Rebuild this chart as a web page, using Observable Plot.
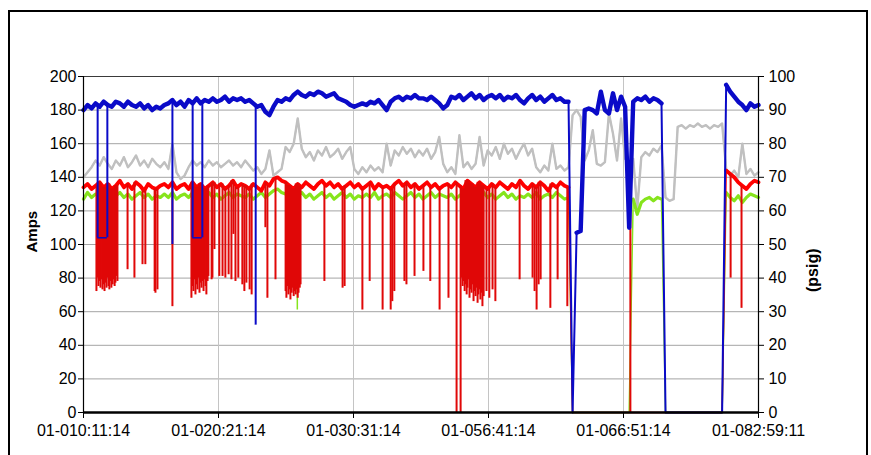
<!DOCTYPE html>
<html><head><meta charset="utf-8">
<script src="https://cdn.jsdelivr.net/npm/d3@7"></script>
<script src="https://cdn.jsdelivr.net/npm/@observablehq/plot@0.6"></script>
<style>
html,body{margin:0;padding:0;background:#fff;overflow:hidden;}
#wrap{position:relative;width:871px;height:455px;}
#border{position:absolute;left:8px;top:10px;width:860px;height:470px;border:2px solid #000;box-sizing:border-box;pointer-events:none;}
</style></head><body>
<div id="wrap"><div id="chart"></div><div id="border"></div></div>
<script>
// category (time-stamp) tick labels
const xTickLabels = ["01-010:11:14","01-020:21:14","01-030:31:14","01-056:41:14","01-066:51:14","01-082:59:11"];
const sampleStep = 10; // samples between stored points

// series values (Amps scale; right axis psig = Amps/2)
const blue = [180,183,181,184,182,185,183,182,185,184,
182,185,183,182,184,181,183,180,182,181,
183,184,186,183,185,182,186,184,187,184,
186,185,187,185,186,188,185,187,186,187,
185,186,184,182,183,179,177,182,186,185,
187,186,189,191,189,188,190,189,191,190,
188,189,190,187,186,185,183,182,183,184,
183,185,184,186,183,180,185,187,188,186,
188,187,189,187,187,186,188,186,184,181,
183,188,187,189,186,188,190,187,189,186,
188,189,187,189,186,188,187,189,186,184,
187,189,186,188,185,187,189,186,187,185,
185,0,107,108,180,181,180,178,191,180,
178,190,180,188,182,110,185,187,186,188,
185,187,186,184,0,0,0,0,0,0,
0,0,0,0,0,0,0,0,0,195,
191,188,185,183,180,184,182,183];

const gray = [140,143,146,150,147,152,148,145,150,147,
152,146,149,153,147,150,146,151,148,146,
149,145,160,143,139,141,146,150,147,149,
146,150,147,149,146,148,150,147,149,146,
150,147,144,146,142,145,156,141,143,145,
158,155,160,175,157,152,155,150,156,153,
158,152,154,157,151,155,158,145,142,146,
143,147,144,146,143,160,147,156,153,158,
154,157,152,156,153,157,151,155,164,148,
143,146,142,165,146,149,145,148,164,147,
156,153,158,151,160,154,157,151,156,160,
153,157,146,143,147,144,160,145,147,144,
146,177,180,176,150,156,168,148,147,149,
178,166,150,175,151,149,151,121,152,155,
153,157,155,159,128,126,127,170,171,169,
171,170,172,170,171,169,171,170,172,145,
141,144,140,160,142,145,141,143];

const red = [134,136,133,135,137,134,136,133,135,138,
134,136,133,137,135,132,136,134,133,135,
136,134,137,133,135,136,133,137,134,136,
133,135,137,134,136,133,135,138,134,136,
135,133,136,134,132,137,135,139,140,138,
137,135,133,136,134,137,135,133,136,138,
135,137,134,136,133,135,137,134,136,133,
135,137,133,136,134,135,133,136,138,135,
137,134,136,133,135,137,134,136,133,135,
136,134,137,135,133,138,136,134,137,135,
133,136,134,137,135,133,136,134,138,135,
133,136,134,137,135,132,136,134,137,135,
134,
0,0,0,0,0,0,0,0,0,0,0,0,0,0,0,0,0,0,0,0,0,0,0,0,0,0,0,0,0,0,0,0,0,0,0,0,0,0,
144,
142,140,137,135,133,136,138,137];

const green = [127,131,128,130,129,127,130,128,129,131,
128,130,127,129,131,128,130,127,129,128,
130,128,131,127,129,130,128,131,129,127,
129,131,128,130,127,129,131,128,130,129,
128,130,127,129,131,128,130,132,133,131,
130,128,127,129,131,128,130,127,129,131,
128,130,127,129,131,128,130,127,129,128,
130,128,131,127,129,130,128,131,129,127,
129,131,128,130,127,129,131,128,130,129,
128,130,127,129,131,128,130,127,129,131,
128,130,127,129,131,128,130,127,129,128,
130,128,131,127,129,130,128,131,129,127,
128,
0,0,0,0,0,0,0,0,0,0,0,0,0,0,0,
127,118,125,127,128,126,128,127,
0,0,0,0,0,0,0,0,0,0,0,0,0,0,0,
131,
128,126,129,125,128,130,129,128];

// short excursions: [sample, value]
const redDips = [[32,72],[35,80],[37,75],[40,78],[42,74],[45,79],[47,73],[49,76],[52,72],[54,77],[57,74],[59,80],[62,75],[64,73],[67,78],[69,74],[72,76],[74,79],[77,75],[79,77],[82,81],[84,78],
[109,85],[126,80],[146,88],[153,88],[176,72],[178,71],[183,73],[220,63],
[267,68],[270,75],[272,72],[275,79],[277,70],[280,76],[282,73],[285,80],[287,71],[290,77],[292,74],[295,78],[297,72],[300,79],[302,75],[304,70],[307,78],[309,81],
[317,79],[319,80],[324,97],[336,81],[344,81],[351,80],[359,82],[366,79],[371,106],[376,78],[383,80],[393,76],[398,72],[403,77],[411,73],[416,70],
[450,110],[455,68],[475,79],[500,72],[502,68],[505,75],[507,70],[510,73],[512,67],[515,71],[517,74],[520,69],[522,72],[525,70],[527,73],[530,68],[532,71],[535,74],[537,76],
[596,78],[641,74],[646,75],[690,61],[708,78],[740,61],[760,61],[764,66],[769,72],[794,78],[799,76],[819,81],
[841,84],[858,78],[881,61],[903,68],[923,0],[933,0],[935,80],[938,75],[940,78],[943,72],[945,76],[948,70],[950,74],[953,79],[955,68],[958,73],[960,71],[963,76],[965,66],[968,72],[970,69],[973,74],[975,65],[977,70],[980,73],[982,67],[985,71],[987,63],[990,69],[997,72],[1004,68],[1012,73],[1019,66],
[1079,79],[1111,80],[1116,72],[1121,61],[1126,76],[1131,79],[1155,62],[1173,79],[1197,63],
[1353,130],[1601,80],[1628,62]];
const blueDips = [[35,104],[59,104],[220,100],[270,104],[294,104],[426,52]];
const blueShelves = [[35,59,104],[270,294,104]];
const greenDips = [[529,61]];

const xMax = (blue.length - 1) * sampleStep;
const tickPos = xTickLabels.map((_, k) => k * xMax / (xTickLabels.length - 1));
const rows = arr => arr.map((v, i) => ({s: i * sampleStep, v}));
const at = (arr, s) => arr[Math.round(s / sampleStep)];

const C = {blue: "#0a0ac8", red: "#ff0000", redThin: "#e00808", gray: "#c0c0c0", green: "#86e41c"};
const yTicks = d3.range(0, 201, 20);

// each series: a thin trace of every point, plus a thick noisy band where the signal is on
const series = (arr, color, thick, thin) => [
  Plot.line(rows(arr), {x: "s", y: "v", stroke: color, strokeWidth: thin}),
  Plot.line(rows(arr), {x: "s", y: d => d.v > 0 ? d.v : NaN, stroke: color, strokeWidth: thick})
];

const chart = Plot.plot({
  width: 871, height: 455,
  marginLeft: 83, marginRight: 113, marginTop: 76, marginBottom: 43,
  x: {domain: [0, xMax]},
  y: {domain: [0, 200]},
  style: {fontFamily: "'Liberation Sans', Arial, sans-serif", fontSize: "16px", color: "#000", background: "transparent", overflow: "visible"},
  marks: [
    Plot.gridY({ticks: yTicks.filter(d => d > 0 && d < 200), stroke: "#a4a4a4", strokeOpacity: 1}),
    Plot.gridX({ticks: tickPos.slice(1, -1), stroke: "#c4c4c4", strokeOpacity: 1}),
    ...series(gray, C.gray, 2.4, 1.5),
    ...series(green, C.green, 3.2, 1.5),
    Plot.ruleX(greenDips, {x: d => d[0], y1: d => d[1], y2: d => at(green, d[0]), stroke: C.green, strokeWidth: 1.5}),
    ...series(red, C.red, 3.8, 1.5),
    Plot.ruleX(redDips, {x: d => d[0], y1: d => d[1], y2: d => at(red, d[0]), stroke: C.redThin, strokeWidth: 2}),
    ...series(blue, C.blue, 4.4, 2),
    Plot.ruleX(blueDips, {x: d => d[0], y1: d => d[1], y2: d => at(blue, d[0]), stroke: C.blue, strokeWidth: 2}),
    Plot.ruleY(blueShelves, {y: d => d[2], x1: d => d[0], x2: d => d[1], stroke: C.blue, strokeWidth: 1.5}),
    Plot.ruleY([200], {stroke: "#3a3a3a", strokeWidth: 1}),
    Plot.ruleX([0, xMax], {stroke: "#000", strokeWidth: 1.2}),
    Plot.ruleY([0], {stroke: "#000", strokeWidth: 2.6}),
    Plot.axisY({anchor: "left", ticks: yTicks, tickSize: 5, tickPadding: 2, label: null}),
    Plot.axisY({anchor: "right", ticks: yTicks, tickSize: 5, tickPadding: 5, tickFormat: d => String(d / 2), label: null}),
    Plot.axisX({ticks: tickPos, tickSize: 6, tickPadding: 6, tickFormat: d => xTickLabels[tickPos.indexOf(d)], label: null}),
    Plot.text(["Amps"], {text: d => d, frameAnchor: "left", rotate: -90, dx: -51, dy: 8, fontWeight: "bold", fontSize: 15}),
    Plot.text(["(psig)"], {text: d => d, frameAnchor: "right", rotate: -90, dx: 54, dy: 4, fontWeight: "bold", fontSize: 16})
  ]
});
document.getElementById("chart").appendChild(chart);
</script>
</body></html>
